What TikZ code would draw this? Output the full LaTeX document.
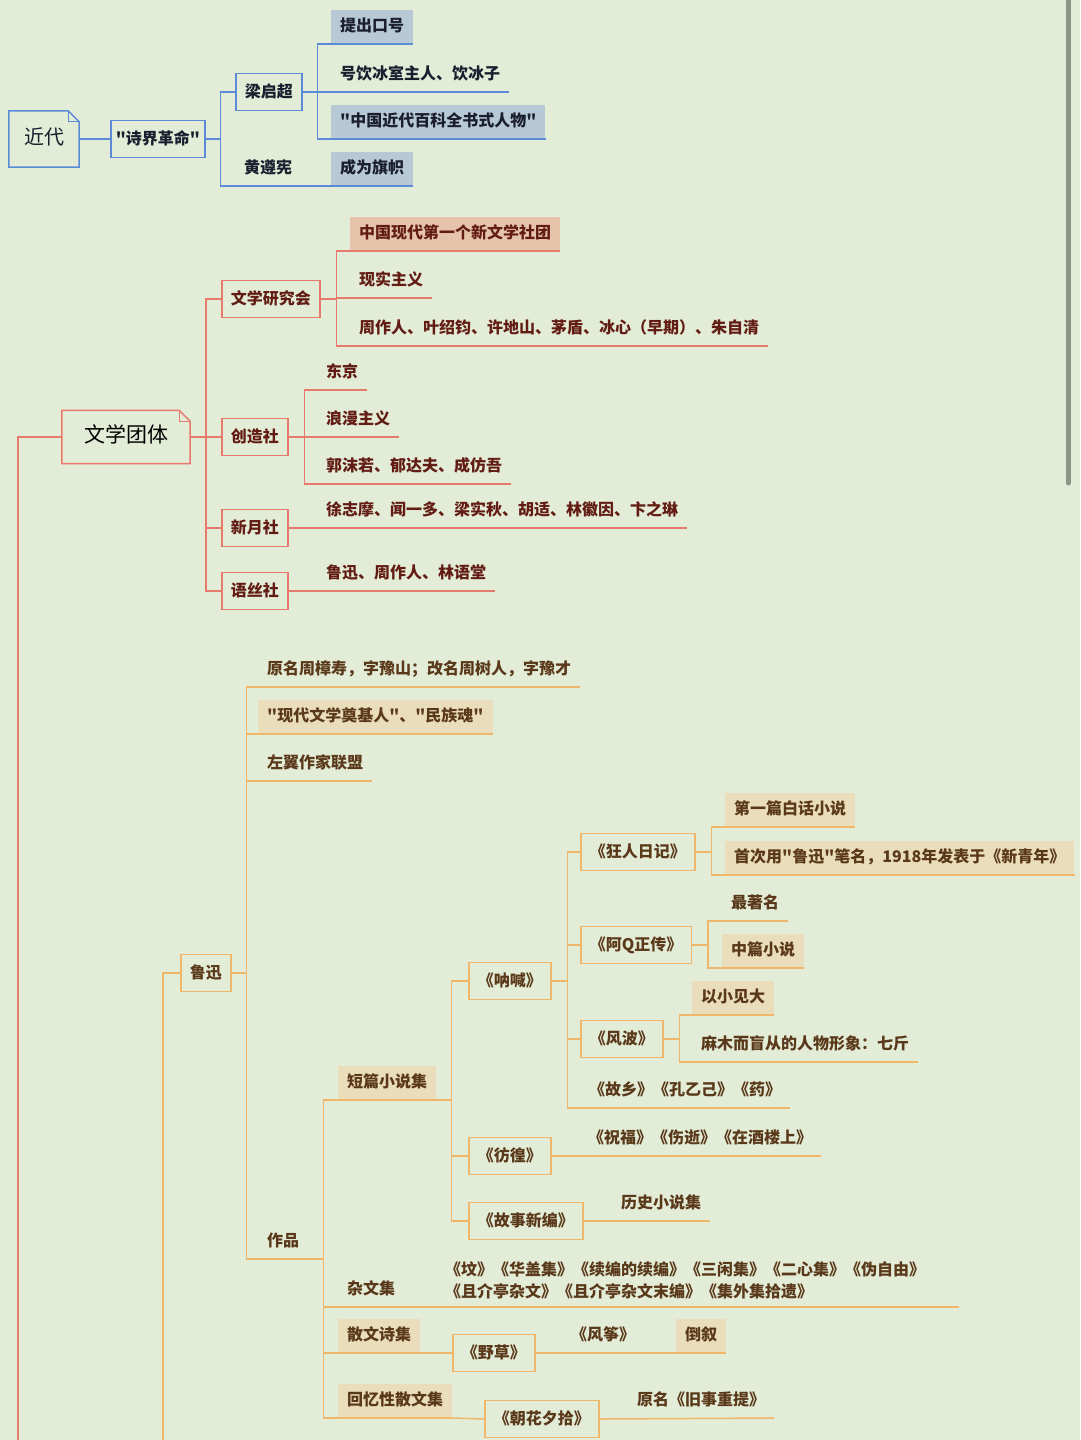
\documentclass[tikz,border=0pt]{standalone}
\usepackage{fontspec}
\setmainfont{Noto Sans CJK SC}[Ligatures=TeXOff]
\usetikzlibrary{calc}

\definecolor{bg}{RGB}{226,236,214}
\definecolor{blueln}{RGB}{91,139,214}
\definecolor{bluetx}{RGB}{26,30,46}
\definecolor{bluehl}{RGB}{184,201,214}
\definecolor{redln}{RGB}{231,122,108}
\definecolor{redtx}{RGB}{98,28,20}
\definecolor{redhl}{RGB}{230,196,172}
\definecolor{orgln}{RGB}{240,182,106}
\definecolor{orgtx}{RGB}{90,56,26}
\definecolor{orghl}{RGB}{234,221,188}
\definecolor{scroll}{RGB}{138,150,134}

\def\dogear#1#2{\draw[#2] (#1.north west) -- ([xshift=-11pt]#1.north east) -- ([yshift=-11pt]#1.north east) -- (#1.south east) -- (#1.south west) -- cycle;
	\draw[#2, line width=0.7pt] ([xshift=-11pt]#1.north east) -- ([xshift=-11pt,yshift=-11pt]#1.north east) -- ([yshift=-11pt]#1.north east);}

\tikzset{
	txt/.style={font=\fontsize{16}{20}\selectfont\bfseries, text height=13pt, text depth=3pt},
	mbox/.style={txt, draw=#1ln, text=#1tx, line width=1.5pt, minimum height=37pt, inner xsep=9pt, inner ysep=0pt, anchor=west},
	mtopic/.style={txt, text=#1tx, minimum height=34pt, inner xsep=9pt, inner ysep=0pt, anchor=south west},
	mfill/.style={mtopic=#1, fill=#1hl},
	mline/.style={draw=#1ln, line width=1.5pt},
	rootbox/.style={inner sep=0pt, anchor=center, text height=15pt, text depth=4pt},
}

\begin{document}
\begin{tikzpicture}[x=1pt, y=-1pt]
			%%%%% START %%%%%
			\fill[bg] (0,0) rectangle (1080,1440);
			\useasboundingbox (0,0) rectangle (1080,1440);
			
			\draw[line width=5pt, line cap=round, draw=scroll] (1068.5,1) -- (1068.5,483);
			
			%%%%% 近代 %%%%%
			\node[rootbox, text=bluetx, minimum width=70pt, minimum height=56pt, font=\fontsize{20}{24}\selectfont] (jindai) at (44,139) {近代};
			\dogear{jindai}{mline=blue}
			
			\node[mbox=blue, inner xsep=5pt] (shijie) at (110,139) {"诗界革命"};
			\node[mbox=blue] (lqc) at (235,92) {梁启超};
			\node[mtopic=blue] (huang) at (235,186) {黄遵宪};
			\node[mfill=blue] (tichu) at (331,44) {提出口号};
			\node[mtopic=blue] (hao) at (331,92) {号饮冰室主人、饮冰子};
			\node[mfill=blue] (baike) at (331,139) {"中国近代百科全书式人物"};
			\node[mfill=blue] (chengwei) at (331,186) {成为旗帜};
			
			\draw[mline=blue] (jindai.east) -- (shijie.west);
			\draw[mline=blue] (shijie.east) -- ++(15,0) |- (lqc.west);
			\draw[mline=blue] (shijie.east) -- ++(15,0) |- (huang.south east);
			\draw[mline=blue] (huang.south east) -- (chengwei.south east);
			\draw[mline=blue] (lqc.east) -- ++(15,0) |- (tichu.south east);
			\draw[mline=blue] (lqc.east) -- ++(15,0) |- (hao.south east);
			\draw[mline=blue] (lqc.east) -- ++(15,0) |- (baike.south east);
			
			%%%%% 文学团体 %%%%%
			\coordinate (redfoot) at (18,1440);
			\node[rootbox, text=black, minimum width=128pt, minimum height=53pt, font=\fontsize{21}{25}\selectfont] (wenxue) at (126,437) {文学团体};
			\dogear{wenxue}{mline=red}
			\draw[mline=red] (redfoot) |- (wenxue.west);
			
			\node[mbox=red] (yanjiu) at (221,299) {文学研究会};
			\node[mbox=red] (chuangzao) at (221,437) {创造社};
			\node[mbox=red] (xinyue) at (221,528) {新月社};
			\node[mbox=red] (yusi) at (221,591) {语丝社};
			
			\node[mfill=red] (diyi) at (350,251) {中国现代第一个新文学社团};
			\node[mtopic=red] (xianshi) at (350,298) {现实主义};
			\node[mtopic=red] (yanjiuren) at (350,346) {周作人、叶绍钧、许地山、茅盾、冰心（早期）、朱自清};
			\node[mtopic=red] (dongjing) at (317,390) {东京};
			\node[mtopic=red] (langman) at (317,437) {浪漫主义};
			\node[mtopic=red] (chuangzaoren) at (317,484) {郭沫若、郁达夫、成仿吾};
			\node[mtopic=red] (xinyueren) at (317,528) {徐志摩、闻一多、梁实秋、胡适、林徽因、卞之琳};
			\node[mtopic=red] (yusiren) at (317,591) {鲁迅、周作人、林语堂};
			
			\draw[mline=red] (wenxue.east) -- ++(16,0) |- (yanjiu.west);
			\draw[mline=red] (wenxue.east) -- (chuangzao.west);
			\draw[mline=red] (wenxue.east) -- ++(16,0) |- (xinyue.west);
			\draw[mline=red] (wenxue.east) -- ++(16,0) |- (yusi.west);
			\draw[mline=red] (yanjiu.east) -- ++(16,0) |- (diyi.south east);
			\draw[mline=red] (yanjiu.east) -- ++(16,0) |- (xianshi.south east);
			\draw[mline=red] (yanjiu.east) -- ++(16,0) |- (yanjiuren.south east);
			\draw[mline=red] (chuangzao.east) -- ++(16,0) |- (dongjing.south east);
			\draw[mline=red] (chuangzao.east) -- ++(16,0) |- (langman.south east);
			\draw[mline=red] (chuangzao.east) -- ++(16,0) |- (chuangzaoren.south east);
			\draw[mline=red] (xinyue.east) -- (xinyueren.south east);
			\draw[mline=red] (yusi.east) -- (yusiren.south east);
			
			%%%%% 鲁迅 %%%%%
			\coordinate (orgfoot) at (163,1440);
			\node[mbox=org] (luxun) at (180,973) {鲁迅};
			\draw[mline=org] (orgfoot) |- (luxun.west);
			
			\node[mtopic=org] (yuanming) at (258,687) {原名周樟寿，字豫山；改名周树人，字豫才};
			\node[mfill=org] (dianji) at (258,734) {"现代文学奠基人"、"民族魂"};
			\node[mtopic=org] (zuoyi) at (258,781) {左翼作家联盟};
			\node[mtopic=org] (zuopin) at (258,1259) {作品};
			
			\draw[mline=org] (luxun.east) -- ++(15,0) |- (yuanming.south east);
			\draw[mline=org] (luxun.east) -- ++(15,0) |- (dianji.south east);
			\draw[mline=org] (luxun.east) -- ++(15,0) |- (zuoyi.south east);
			\draw[mline=org] (luxun.east) -- ++(15,0) |- (zuopin.south east);
			
			\node[mfill=org] (duanpian) at (338,1100) {短篇小说集};
			\node[mtopic=org] (zawen) at (338,1307) {杂文集};
			\node[text=orgtx, font=\fontsize{16}{22}\selectfont\bfseries, align=left, text width=505pt, inner xsep=9pt, inner ysep=8pt, anchor=south west] (zawenlist) at (436,1307) {《坟》《华盖集》《续编的续编》《三闲集》《二心集》《伪自由》\\《且介亭杂文》《且介亭杂文末编》《集外集拾遗》};
			\node[mfill=org] (sanwenshi) at (338,1353) {散文诗集};
			\node[mfill=org] (huiyi) at (338,1418) {回忆性散文集};
			
			\draw[mline=org] (zuopin.south east) -- ++(15,0) |- (duanpian.south east);
			\draw[mline=org] (zuopin.south east) -- ++(15,0) |- (zawen.south east);
			\draw[mline=org] (zawen.south east) -- (zawenlist.south east);
			\draw[mline=org] (zuopin.south east) -- ++(15,0) |- (sanwenshi.south east);
			\draw[mline=org] (zuopin.south east) -- ++(15,0) |- (huiyi.south east);
			
			\node[mbox=org] (nahan) at (468,981) {《呐喊》};
			\node[mbox=org] (panghuang) at (468,1156) {《彷徨》};
			\node[mbox=org] (gushi) at (468,1221) {《故事新编》};
			
			\draw[mline=org] (duanpian.south east) -- ++(15,0) |- (nahan.west);
			\draw[mline=org] (duanpian.south east) -- ++(15,0) |- (panghuang.west);
			\draw[mline=org] (duanpian.south east) -- ++(15,0) |- (gushi.west);
			
			\node[mbox=org] (kuangren) at (580,852) {《狂人日记》};
			\node[mbox=org] (ahq) at (580,945) {《阿Q正传》};
			\node[mbox=org] (fengbo) at (580,1039) {《风波》};
			\node[mtopic=org] (guxiang) at (580,1108) {《故乡》《孔乙己》《药》};
			
			\draw[mline=org] (nahan.east) -- ++(16,0) |- (kuangren.west);
			\draw[mline=org] (nahan.east) -- ++(16,0) |- (ahq.west);
			\draw[mline=org] (nahan.east) -- ++(16,0) |- (fengbo.west);
			\draw[mline=org] (nahan.east) -- ++(16,0) |- (guxiang.south east);
			
			\node[mfill=org] (diyipian) at (725,827) {第一篇白话小说};
			\node[mfill=org] (shouci) at (725,875) {首次用"鲁迅"笔名，1918年发表于《新青年》};
			\node[mtopic=org] (zhuming) at (722,921) {最著名};
			\node[mfill=org] (zhongpian) at (722,968) {中篇小说};
			\node[mfill=org] (yixiao) at (692,1015) {以小见大};
			\node[mtopic=org] (mamu) at (692,1062) {麻木而盲从的人物形象：七斤};
			
			\draw[mline=org] (kuangren.east) -- ++(16,0) |- (diyipian.south east);
			\draw[mline=org] (kuangren.east) -- ++(16,0) |- (shouci.south east);
			\draw[mline=org] (ahq.east) -- ++(16,0) |- (zhuming.south east);
			\draw[mline=org] (ahq.east) -- ++(16,0) |- (zhongpian.south east);
			\draw[mline=org] (fengbo.east) -- ++(16,0) |- (yixiao.south east);
			\draw[mline=org] (fengbo.east) -- ++(16,0) |- (mamu.south east);
			
			\node[mtopic=org] (zhufu) at (579,1156) {《祝福》《伤逝》《在酒楼上》};
			\node[mtopic=org] (lishi) at (612,1221) {历史小说集};
			\draw[mline=org] (panghuang.east) -- (zhufu.south east);
			\draw[mline=org] (gushi.east) -- (lishi.south east);
			
			\node[mbox=org] (yecao) at (452,1353) {《野草》};
			\node[mtopic=org] (fengzheng) at (562,1353) {《风筝》};
			\node[mfill=org] (daoxu) at (676,1353) {倒叙};
			\draw[mline=org] (sanwenshi.south east) -- (yecao.west);
			\draw[mline=org] (yecao.east) -- (fengzheng.south east);
			\draw[mline=org] (fengzheng.south east) -- (daoxu.south east);
			
			\node[mbox=org] (zhaohua) at (484,1419) {《朝花夕拾》};
			\node[mtopic=org] (jiushi) at (628,1418) {原名《旧事重提》};
			\draw[mline=org] (huiyi.south east) -- (zhaohua.west);
			\draw[mline=org] (zhaohua.east) -- (jiushi.south east);
			
			%%%%% END %%%%%
\end{tikzpicture}
\end{document}
